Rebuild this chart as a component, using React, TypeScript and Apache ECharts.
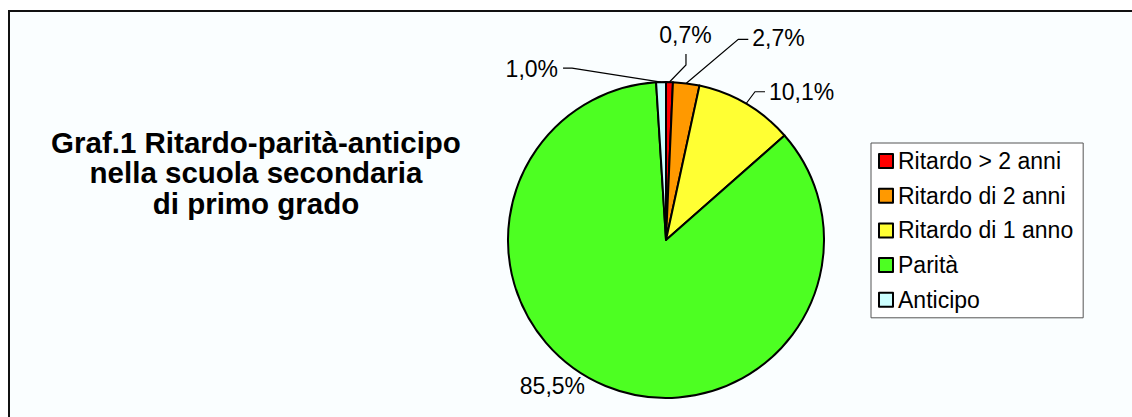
import React, { useEffect, useRef } from 'react';
import * as echarts from 'echarts';

// ---- data ----
const categories: string[] = ['Ritardo > 2 anni', 'Ritardo di 2 anni', 'Ritardo di 1 anno', 'Parità', 'Anticipo'];
const values: number[] = [0.7, 2.7, 10.1, 85.5, 1.0];
const titleLines: string[] = ['Graf.1 Ritardo-parità-anticipo', 'nella scuola secondaria', 'di primo grado'];

// ---- style ----
const colors = ['#FF0000', '#FF9900', '#FFFF33', '#4DFF22', '#CCFFFF'];
const FONT = '"Liberation Sans", Arial, sans-serif';
const CX = 656;
const CY = 228;
const R = 158;

// label placement relative to each slice's outer mid point
const labelPlacement: { lx: number; ly: number; align: string; line: number[][] | null }[] = [
  { lx: 16, ly: -47, align: 'center', line: [[16.5, -17], [16.5, -28]] },
  { lx: 66, ly: -45, align: 'left', line: [[52, -44], [62, -44]] },
  { lx: 23, ly: -12, align: 'left', line: [[9, -12], [19, -12]] },
  { lx: -20.5, ly: 0, align: 'right', line: null },
  { lx: -103, ly: -13, align: 'right', line: [[-89, -14], [-98, -14]] },
];

function anchorOf(i: number): number[] {
  const total = values.reduce((a, b) => a + b, 0);
  let cum = 0;
  for (let k = 0; k < i; k++) cum += values[k];
  const mid = ((cum + values[i] / 2) / total) * 2 * Math.PI;
  return [CX + R * Math.sin(mid), CY - R * Math.cos(mid)];
}

export default function App() {
  const ref = useRef<HTMLDivElement>(null);
  useEffect(() => {
    if (!ref.current) return;
    const chart = echarts.init(ref.current, undefined, { renderer: 'svg' });
    chart.setOption({
      animation: false,
      backgroundColor: 'transparent',
      graphic: [
        {
          type: 'text',
          x: 246,
          y: 115,
          style: {
            text: titleLines.join('\n'),
            font: `bold 29.5px ${FONT}`,
            fill: '#000',
            align: 'center',
            verticalAlign: 'top',
            lineHeight: 30.5,
          },
        },
      ],
      legend: {
        orient: 'vertical',
        left: 861,
        top: 131,
        icon: 'rect',
        itemWidth: 14,
        itemHeight: 14,
        itemGap: 10.7,
        itemTextGap: 6,
        padding: [6, 10, 6, 7],
        borderColor: '#555',
        borderWidth: 1,
        backgroundColor: '#ffffff',
        itemStyle: { borderColor: '#000', borderWidth: 2 },
        textStyle: { fontFamily: FONT, fontSize: 23, lineHeight: 24, color: '#000' },
        data: categories,
      },
      series: [
        {
          type: 'pie',
          center: [CX, CY],
          radius: R,
          startAngle: 90,
          clockwise: true,
          avoidLabelOverlap: false,
          itemStyle: { borderColor: '#000', borderWidth: 2 },
          label: {
            show: true,
            position: 'outside',
            fontFamily: FONT,
            fontSize: 23,
            color: '#000',
            formatter: (p: any) => values[p.dataIndex].toFixed(1).replace('.', ',') + '%',
          },
          labelLine: { show: true, lineStyle: { color: '#000', width: 1.2 } },
          labelLayout: (params: any) => {
            const i = params.dataIndex;
            const pl = labelPlacement[i];
            const a = anchorOf(i);
            const res: any = {
              x: a[0] + pl.lx,
              y: a[1] + pl.ly,
              align: pl.align,
              verticalAlign: 'middle',
            };
            if (pl.line) {
              res.labelLinePoints = [a, ...pl.line.map((d) => [a[0] + d[0], a[1] + d[1]])];
            }
            return res;
          },
          data: categories.map((name, i) => ({
            name,
            value: values[i],
            itemStyle: { color: colors[i] },
            labelLine: { show: labelPlacement[i].line !== null },
          })),
        },
      ],
    });
    return () => chart.dispose();
  }, []);

  return (
    <div
      style={{
        position: 'fixed',
        left: 8,
        top: 10,
        width: 1124,
        height: 407,
        borderTop: '2px solid #111',
        borderLeft: '2px solid #111',
        background: '#fafeff',
        boxSizing: 'border-box',
      }}
    >
      <div ref={ref} style={{ width: 1122, height: 405 }} />
    </div>
  );
}
